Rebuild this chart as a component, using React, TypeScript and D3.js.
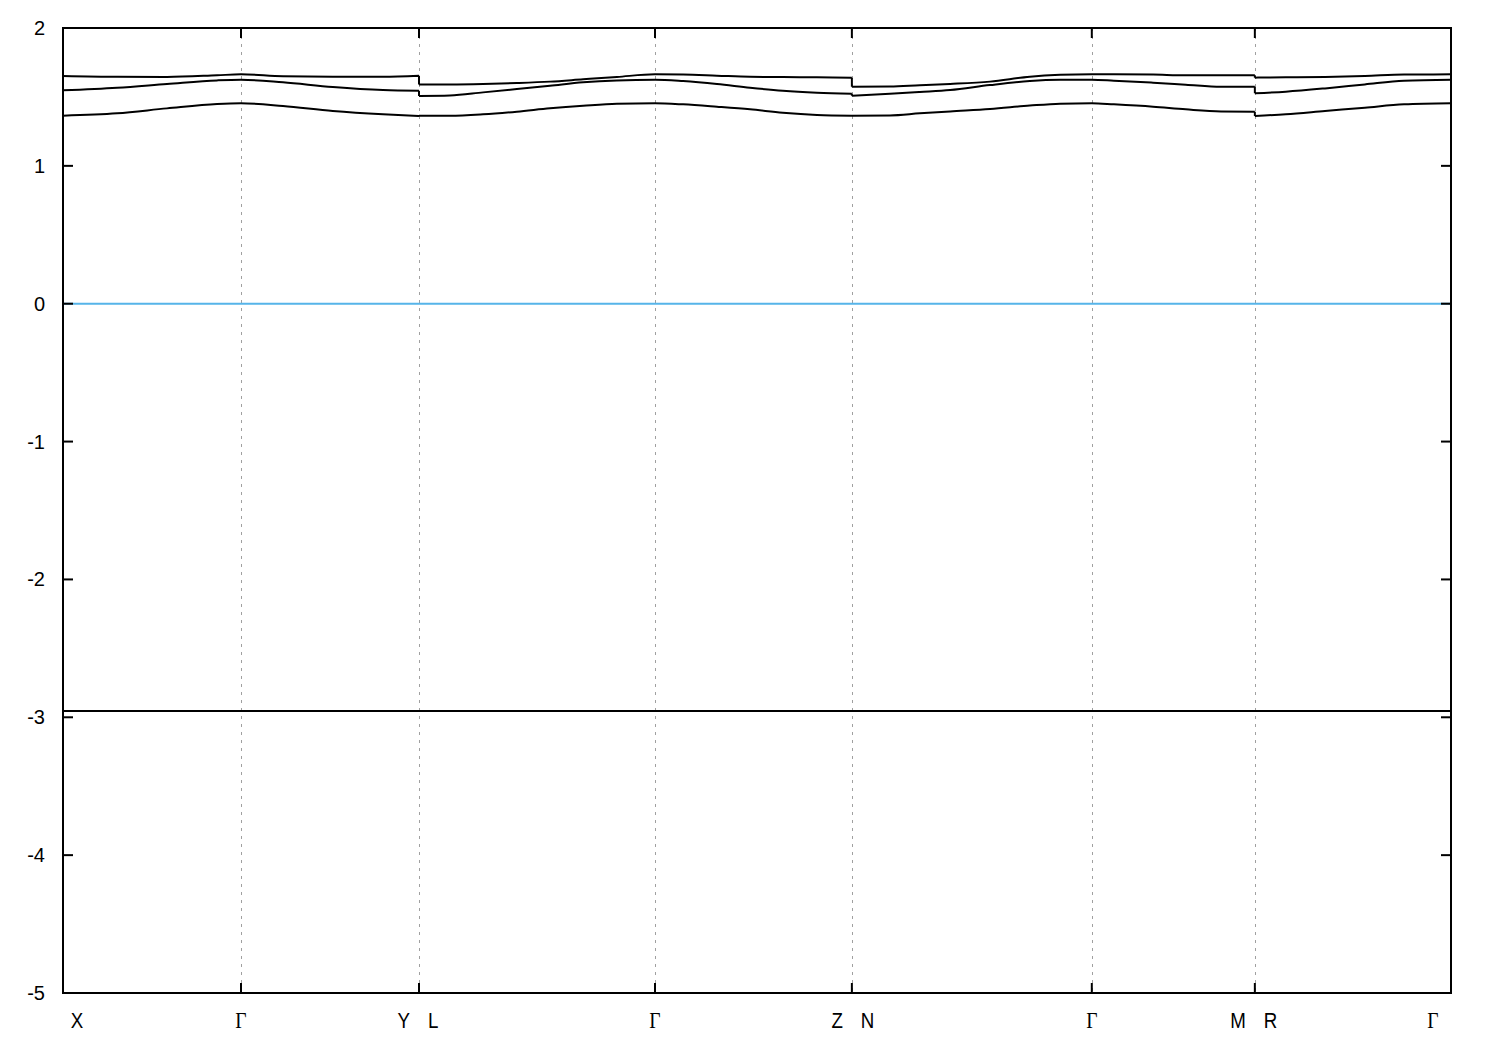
import React from "react";
import * as d3 from "d3";

// high-symmetry points along the k-path
const kTicks = [0, 0.5, 1.0, 1.663, 2.216, 2.89, 3.348, 3.899];
const kLabels = ["X", "Γ", "Y|L", "Γ", "Z|N", "Γ", "M|R", "Γ"];
const yTicks = [-5, -4, -3, -2, -1, 0, 1, 2];

// run 1: X - Γ - Y
const run1K = [0, 0.152, 0.292, 0.433, 0.5, 0.618, 0.758, 0.899, 1.0];
const run1B1 = [1.364, 1.381, 1.417, 1.449, 1.454, 1.434, 1.398, 1.374, 1.362];
const run1B2 = [1.548, 1.567, 1.594, 1.62, 1.625, 1.606, 1.572, 1.55, 1.545];
const run1B3 = [1.652, 1.646, 1.645, 1.657, 1.664, 1.65, 1.647, 1.647, 1.654];

// run 2: L - Γ - Z
const run2K = [1.0, 1.087, 1.18, 1.275, 1.368, 1.461, 1.556, 1.663, 1.742, 1.837, 1.93, 2.022, 2.118, 2.216];
const run2B1 = [1.364, 1.364, 1.374, 1.393, 1.417, 1.436, 1.451, 1.454, 1.446, 1.429, 1.41, 1.385, 1.369, 1.364];
const run2B2 = [1.507, 1.51, 1.533, 1.557, 1.581, 1.606, 1.62, 1.625, 1.615, 1.594, 1.567, 1.545, 1.531, 1.523];
const run2B3 = [1.591, 1.591, 1.594, 1.601, 1.611, 1.628, 1.645, 1.664, 1.662, 1.654, 1.646, 1.644, 1.642, 1.64];

// run 3: N - Γ - M
const run3K = [2.216, 2.323, 2.407, 2.492, 2.604, 2.716, 2.801, 2.89, 2.952, 3.062, 3.154, 3.253, 3.348];
const run3B1 = [1.364, 1.366, 1.381, 1.395, 1.412, 1.437, 1.451, 1.454, 1.446, 1.429, 1.41, 1.395, 1.393];
const run3B2 = [1.509, 1.523, 1.536, 1.55, 1.586, 1.615, 1.624, 1.625, 1.618, 1.603, 1.589, 1.574, 1.574];
const run3B3 = [1.574, 1.575, 1.585, 1.594, 1.611, 1.647, 1.66, 1.664, 1.664, 1.662, 1.657, 1.657, 1.657];

// run 4: R - Γ
const run4K = [3.348, 3.435, 3.545, 3.657, 3.767, 3.899];
const run4B1 = [1.362, 1.374, 1.398, 1.422, 1.446, 1.454];
const run4B2 = [1.526, 1.538, 1.562, 1.591, 1.618, 1.625];
const run4B3 = [1.64, 1.642, 1.645, 1.652, 1.662, 1.664];

// deep flat band and Fermi level
const deepK = [0, 3.899];
const deepE = [-2.955, -2.955];
const fermiE = 0;

const W = 1500;
const H = 1050;
const M = { left: 63, right: 49, top: 28, bottom: 57 };

export default function App() {
  const x = d3.scaleLinear().domain([kTicks[0], kTicks[kTicks.length - 1]]).range([M.left, W - M.right]);
  const y = d3.scaleLinear().domain([-5, 2]).range([H - M.bottom, M.top]);

  const runs = [
    { k: run1K, bands: [run1B1, run1B2, run1B3] },
    { k: run2K, bands: [run2B1, run2B2, run2B3] },
    { k: run3K, bands: [run3B1, run3B2, run3B3] },
    { k: run4K, bands: [run4B1, run4B2, run4B3] },
  ];

  const smooth = d3
    .line<[number, number]>()
    .x((d) => x(d[0]))
    .y((d) => y(d[1]))
    .curve(d3.curveMonotoneX);
  const straight = d3
    .line<[number, number]>()
    .x((d) => x(d[0]))
    .y((d) => y(d[1]));

  const paths: string[] = [];
  for (let b = 0; b < 3; b++) {
    let dStr = "";
    runs.forEach((r, ri) => {
      const pts = r.k.map((kk, i) => [kk, r.bands[b][i]] as [number, number]);
      dStr += smooth(pts) || "";
      if (ri < runs.length - 1) {
        const nxt = runs[ri + 1];
        const jump: [number, number][] = [
          [r.k[r.k.length - 1], r.bands[b][r.k.length - 1]],
          [nxt.k[0], nxt.bands[b][0]],
        ];
        dStr += straight(jump) || "";
      }
    });
    paths.push(dStr);
  }

  const deepPath = straight(deepK.map((kk, i) => [kk, deepE[i]] as [number, number])) || "";

  const x0 = M.left;
  const x1 = W - M.right;
  const y0 = M.top;
  const y1 = H - M.bottom;
  const sans = "'Liberation Sans', Arial, sans-serif";
  const serif = "'Liberation Serif', 'DejaVu Serif', serif";
  const labelBase = 1028;

  const txt = (key: string, cx: number, s: string, anchor: string, font: string, size: number) => (
    <text
      key={key}
      transform={`translate(${cx},${labelBase}) scale(0.85,1)`}
      textAnchor={anchor}
      fontFamily={font}
      fontSize={size}
    >
      {s}
    </text>
  );

  const renderLabel = (lab: string, i: number) => {
    const px = x(kTicks[i]);
    const isGamma = lab === "Γ";
    const font = isGamma ? serif : sans;
    if (lab.includes("|")) {
      const [a, b] = lab.split("|");
      return (
        <g key={"l" + i}>
          {txt("a", px - 9, a, "end", sans, 22)}
          {txt("b", px + 9, b, "start", sans, 22)}
        </g>
      );
    }
    let cx = px;
    if (i === 0) cx = px + 14;
    if (i === kTicks.length - 1) cx = px - 18;
    return txt("l" + i, cx, lab, "middle", font, isGamma ? 23 : 22);
  };

  return (
    <svg width={W} height={H} style={{ position: "absolute", left: 0, top: 0, background: "#fff" }}>
      <rect x={0} y={0} width={W} height={H} fill="#fff" />
      {/* vertical dashed grid lines at interior high-symmetry points */}
      {kTicks.slice(1, -1).map((kk, i) => (
        <line
          key={"g" + i}
          x1={Math.round(x(kk)) + 0.5}
          x2={Math.round(x(kk)) + 0.5}
          y1={y0}
          y2={y1}
          stroke="#a0a0a0"
          strokeWidth={1}
          strokeDasharray="3,5"
        />
      ))}
      {/* Fermi level */}
      <line x1={x0} x2={x1} y1={y(fermiE)} y2={y(fermiE)} stroke="#56b4e9" strokeWidth={2} />
      {/* deep band */}
      <path d={deepPath} fill="none" stroke="#000" strokeWidth={2} />
      {/* bands */}
      {paths.map((p, i) => (
        <path key={"b" + i} d={p} fill="none" stroke="#000" strokeWidth={2} strokeLinejoin="round" />
      ))}
      {/* y ticks */}
      {yTicks.map((t) => (
        <g key={"y" + t}>
          <line x1={x0} x2={x0 + 10} y1={y(t)} y2={y(t)} stroke="#000" strokeWidth={2} />
          <line x1={x1} x2={x1 - 10} y1={y(t)} y2={y(t)} stroke="#000" strokeWidth={2} />
          <text x={45} y={y(t) + 7} textAnchor="end" fontFamily={sans} fontSize={20}>
            {t}
          </text>
        </g>
      ))}
      {/* x ticks */}
      {kTicks.map((kk, i) => (
        <g key={"x" + i}>
          <line x1={x(kk)} x2={x(kk)} y1={y1} y2={y1 - 10} stroke="#000" strokeWidth={2} />
          <line x1={x(kk)} x2={x(kk)} y1={y0} y2={y0 + 10} stroke="#000" strokeWidth={2} />
        </g>
      ))}
      {kLabels.map((lab, i) => renderLabel(lab, i))}
      {/* frame */}
      <rect x={x0} y={y0} width={x1 - x0} height={y1 - y0} fill="none" stroke="#000" strokeWidth={2} />
    </svg>
  );
}
